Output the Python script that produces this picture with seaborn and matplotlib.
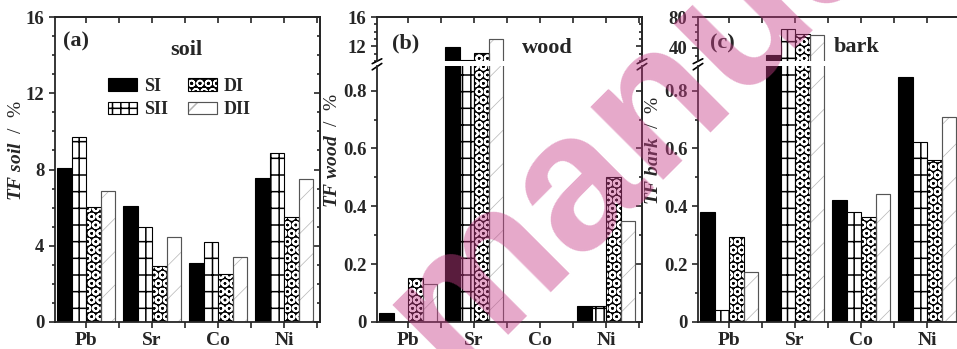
import numpy as np
import pandas as pd
import matplotlib
matplotlib.use("Agg")
import matplotlib.pyplot as plt
import seaborn as sns
from matplotlib.patches import Patch, Rectangle
from matplotlib.legend_handler import HandlerTuple
from matplotlib.ticker import MultipleLocator, FixedLocator, FuncFormatter

# ---- data ----
elements = ["Pb", "Sr", "Co", "Ni"]
series = ["SI", "SII", "DI", "DII"]

soil_SI = [8.06, 6.10, 3.10, 7.57]
soil_SII = [9.69, 5.00, 4.20, 8.85]
soil_DI = [6.05, 2.93, 2.50, 5.49]
soil_DII = [6.89, 4.47, 3.42, 7.48]

wood_SI = [0.032, 11.9, 0.0, 0.057]
wood_SII = [0.0, 10.15, 0.0, 0.057]
wood_DI = [0.153, 11.08, 0.0, 0.50]
wood_DII = [0.132, 13.06, 0.0, 0.35]

bark_SI = [0.382, 31.0, 0.422, 0.847]
bark_SII = [0.043, 64.0, 0.382, 0.621]
bark_DI = [0.293, 58.0, 0.362, 0.560]
bark_DII = [0.172, 56.8, 0.443, 0.710]

W, H = 957, 349


def long_frame(vals):
    rows = []
    for s, v in zip(series, vals):
        for e, x in zip(elements, v):
            rows.append({"element": e, "series": s, "value": x})
    return pd.DataFrame(rows)


def px_box(left, top, width, height):
    return [left / W, 1 - (top + height) / H, width / W, height / H]


sns.set_style("ticks")
plt.rcParams["font.family"] = ["Liberation Serif", "DejaVu Serif"]
plt.rcParams["font.weight"] = "bold"
plt.rcParams["mathtext.fontset"] = "custom"
plt.rcParams["mathtext.it"] = "Liberation Serif:italic:bold"
plt.rcParams["mathtext.rm"] = "Liberation Serif:bold"
plt.rcParams["hatch.linewidth"] = 1.1
plt.rcParams["axes.linewidth"] = 1.3

STYLE = {
    "SI": dict(facecolor="black", edgecolor="black", hatch=None, hlw=None),
    "SII": dict(facecolor="white", edgecolor="black", hatch="+|", hlw=1.1),
    "DI": dict(facecolor="black", edgecolor="white", hatch="OO", hlw=1.4),
    "DII": dict(facecolor="white", edgecolor="#b5b5b5", hatch="/", hlw=0.5),
}
OUTLINE = {"DI": "black", "DII": "#555555"}


def draw_bars(ax, df):
    sns.barplot(data=df, x="element", y="value", hue="series", order=elements,
                hue_order=series, width=0.88, palette=["black"] * 4, saturation=1,
                errorbar=None, legend=False, ax=ax)
    for s, cont in zip(series, ax.containers):
        st = STYLE[s]
        for bar in cont:
            bar.set_facecolor(st["facecolor"])
            bar.set_edgecolor(st["edgecolor"])
            bar.set_linewidth(0.8)
            if st["hatch"]:
                bar.set_hatch(st["hatch"])
                if hasattr(bar, "set_hatch_linewidth"):
                    bar.set_hatch_linewidth(st["hlw"])
            if s in OUTLINE:
                # outline drawn over the hatched face
                ax.add_patch(Rectangle(bar.get_xy(), bar.get_width(), bar.get_height(),
                                       fill=False, edgecolor=OUTLINE[s],
                                       linewidth=0.8, zorder=bar.get_zorder() + 0.1))
    ax.set_xlim(-0.47, 3.545)
    ax.set_xlabel("")
    ax.set_ylabel("")


def style_axes(ax, top=True, bottom=True):
    ax.xaxis.set_minor_locator(FixedLocator([0.5, 1.5, 2.5, 3.5]))
    ax.tick_params(axis="y", which="both", direction="out", width=1.2, labelsize=13.5, right=False)
    ax.tick_params(axis="y", which="major", length=4)
    ax.tick_params(axis="y", which="minor", length=2.5)
    ax.tick_params(axis="x", which="both", direction="out", width=1.2, labelsize=14, top=False)
    ax.tick_params(axis="x", which="major", length=4)
    ax.tick_params(axis="x", which="minor", length=4)
    if not bottom:
        ax.tick_params(axis="x", which="both", bottom=False, labelbottom=False)
        ax.spines["bottom"].set_visible(False)
    if not top:
        ax.spines["top"].set_visible(False)
    else:
        sec = ax.secondary_xaxis("top")
        sec.set_xticks(range(4))
        sec.xaxis.set_minor_locator(FixedLocator([0.5, 1.5, 2.5, 3.5]))
        sec.tick_params(which="both", direction="in", length=4, width=1.2, labeltop=False)
    secy = ax.secondary_yaxis("right")
    secy.yaxis.set_major_locator(ax.yaxis.get_major_locator())
    secy.yaxis.set_minor_locator(ax.yaxis.get_minor_locator())
    secy.tick_params(which="both", direction="in", width=1.2, labelright=False)
    secy.tick_params(which="major", length=4)
    secy.tick_params(which="minor", length=2.5)
    for lab in ax.get_xticklabels() + ax.get_yticklabels():
        lab.set_fontweight("bold")


fmt = FuncFormatter(lambda v, p: "0" if abs(v) < 1e-9 else (f"{v:.1f}" if v < 1 else f"{v:.0f}"))

fig = plt.figure(figsize=(W / 100, H / 100), dpi=100)

# ---- (a) soil ----
ax_a = fig.add_axes(px_box(55, 17, 265, 305))
draw_bars(ax_a, long_frame([soil_SI, soil_SII, soil_DI, soil_DII]))
ax_a.set_ylim(0, 16)
ax_a.yaxis.set_major_locator(MultipleLocator(4))
ax_a.yaxis.set_minor_locator(MultipleLocator(1))
ax_a.yaxis.set_major_formatter(fmt)
style_axes(ax_a)
ax_a.set_ylabel(r"$TF\ soil$  /  %", fontsize=14)
ax_a.yaxis.set_label_coords(-0.115, 0.56)

legend_handles = []
for s in series:
    st = STYLE[s]
    p = Patch(facecolor=st["facecolor"], edgecolor=st["edgecolor"], hatch=st["hatch"], linewidth=0.8)
    if s in OUTLINE:
        legend_handles.append((p, Patch(fill=False, edgecolor=OUTLINE[s], linewidth=0.8)))
    else:
        legend_handles.append(p)
ax_a.legend(legend_handles, series, ncol=2, loc="upper left", bbox_to_anchor=(0.165, 0.83),
            frameon=False, fontsize=13, handlelength=1.6, handleheight=0.7,
            handletextpad=0.4, columnspacing=1.1, labelspacing=0.35, borderpad=0,
            handler_map={tuple: HandlerTuple(ndivide=1)})


def broken_panel(left, vals, hi_lim, hi_ticks, name_y):
    ax_lo = fig.add_axes(px_box(left, 66, 265, 256))
    ax_hi = fig.add_axes(px_box(left, 17, 265, 44))
    df = long_frame(vals)
    draw_bars(ax_lo, df)
    draw_bars(ax_hi, df)
    ax_lo.set_ylim(0, 0.885)
    ax_lo.yaxis.set_major_locator(FixedLocator([0, 0.2, 0.4, 0.6, 0.8]))
    ax_lo.yaxis.set_minor_locator(FixedLocator([0.1, 0.3, 0.5, 0.7]))
    ax_lo.yaxis.set_major_formatter(fmt)
    ax_hi.set_ylim(*hi_lim)
    ax_hi.yaxis.set_major_locator(FixedLocator(hi_ticks))
    step = (hi_ticks[1] - hi_ticks[0]) / 4
    ax_hi.yaxis.set_minor_locator(MultipleLocator(step))
    ax_hi.yaxis.set_major_formatter(fmt)
    style_axes(ax_lo, top=False)
    style_axes(ax_hi, bottom=False)
    ax_hi.set_xticks(range(4))
    # break marks on both spines
    for x in (0, 1):
        ax_lo.plot([x - 0.018, x + 0.018], [0.985, 1.01], transform=ax_lo.transAxes,
                   color="black", lw=1.2, clip_on=False)
        ax_hi.plot([x - 0.018, x + 0.018], [-0.06, 0.05], transform=ax_hi.transAxes,
                   color="black", lw=1.2, clip_on=False)
    ax_lo.set_ylabel(r"$TF\ %s$  /  %%" % name_y, fontsize=14)
    ax_lo.yaxis.set_label_coords(-0.135, 0.67)
    return ax_lo, ax_hi


broken_panel(377, [wood_SI, wood_SII, wood_DI, wood_DII], (10, 16), [12, 16], "wood")
broken_panel(698, [bark_SI, bark_SII, bark_DI, bark_DII], (23, 80), [40, 80], "bark")

# panel labels
for lab, x, y in (("(a)", 63, 41), ("(b)", 392, 43), ("(c)", 710, 43)):
    fig.text(x / W, 1 - y / H, lab, ha="left", va="center", fontsize=16, fontweight="bold")
for lab, x, y in (("soil", 186, 50), ("wood", 547, 48), ("bark", 857, 47)):
    fig.text(x / W, 1 - y / H, lab, ha="center", va="center", fontsize=16, fontweight="bold")

# pink watermark
fig.text(452 / W, 1 - 378 / H, "manuscript", family="Liberation Sans", fontweight="bold",
         fontsize=140, color="#c8408a", alpha=0.45, rotation=45, rotation_mode="anchor",
         ha="left", va="baseline", zorder=50)

fig.savefig("out.png", dpi=100)
